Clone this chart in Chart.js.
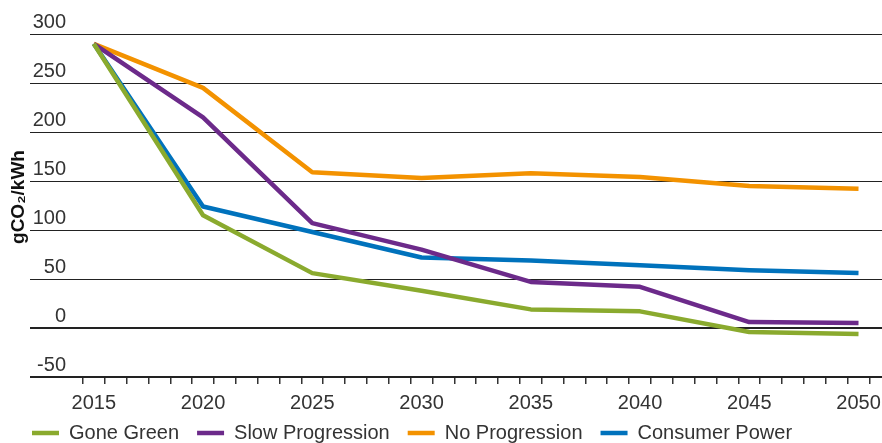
<!DOCTYPE html>
<html>
<head>
<meta charset="utf-8">
<script src="https://cdn.jsdelivr.net/npm/chart.js@4/dist/chart.umd.min.js"></script>
<style>
  html, body { margin: 0; padding: 0; background: #fff; overflow: hidden; }
  #wrap { width: 882px; height: 443px; }
</style>
</head>
<body>
<div id="wrap"><canvas id="c"></canvas></div>
<script>
// values
const years = [2015, 2020, 2025, 2030, 2035, 2040, 2045, 2050];
const goneGreen = [290, 115, 56, 38, 19, 17, -4, -6];
const slowProgression = [290, 215, 107, 80, 47, 42, 6, 5];
const noProgression = [290, 245, 159, 153, 158, 154, 145, 142];
const consumerPower = [290, 124, 98, 72, 69, 64, 59, 56];
const yTicks = [-50, 0, 50, 100, 150, 200, 250, 300];
const labelYears = years;

// one minor tick per year along the x axis
const tickYears = [];
for (let y = 2014; y <= 2050; y++) tickYears.push(y);

const family = "'Liberation Sans', Arial, sans-serif";
const font = { family, size: 20 };
const pts = arr => arr.map((v, i) => ({ x: years[i], y: v }));

new Chart(document.getElementById('c'), {
  type: 'line',
  data: {
    datasets: [
      { label: 'Gone Green', data: pts(goneGreen), borderColor: '#8AAA2E', backgroundColor: '#8AAA2E' },
      { label: 'Slow Progression', data: pts(slowProgression), borderColor: '#6C2A8A', backgroundColor: '#6C2A8A' },
      { label: 'No Progression', data: pts(noProgression), borderColor: '#F39200', backgroundColor: '#F39200' },
      { label: 'Consumer Power', data: pts(consumerPower), borderColor: '#0072BC', backgroundColor: '#0072BC' }
    ]
  },
  options: {
    responsive: true,
    maintainAspectRatio: false,
    animation: false,
    layout: { padding: { left: 14, top: 17, right: 0, bottom: -10 } },
    elements: {
      line: { borderWidth: 4.5, tension: 0, borderJoinStyle: 'round' },
      point: { radius: 0, hoverRadius: 0, borderWidth: 4.5 }
    },
    plugins: {
      legend: {
        position: 'bottom',
        align: 'start',
        // empty title with negative padding pulls the row up under the axis labels
        title: { display: true, text: ' ', font: { size: 1 }, padding: { top: 0, bottom: -9.2 } },
        labels: {
          usePointStyle: true,
          pointStyle: 'line',
          pointStyleWidth: 27,
          padding: 18,
          color: '#333',
          font
        }
      },
      tooltip: { enabled: false }
    },
    scales: {
      x: {
        type: 'linear',
        min: 2013.728,
        max: 2051.075,
        afterBuildTicks: s => { s.ticks = tickYears.map(v => ({ value: v })); },
        afterFit: s => { s.height = 36; s.paddingLeft = 0; s.paddingRight = 0; },
        grid: { offset: true, drawOnChartArea: false, drawTicks: true, tickLength: 7, color: '#333', lineWidth: 1.5 },
        border: { display: true, color: '#222', width: 2 },
        ticks: {
          autoSkip: false,
          maxRotation: 0,
          padding: 7,
          color: '#333',
          font,
          callback: v => labelYears.includes(v) ? String(v) : ''
        }
      },
      y: {
        min: -50,
        max: 317.35,
        afterBuildTicks: s => { s.ticks = yTicks.map(v => ({ value: v })); },
        afterFit: s => { s.width = 52; s.paddingTop = 0; s.paddingBottom = 0; },
        grid: {
          color: '#222',
          lineWidth: c => (c.tick && (c.tick.value === 0 || c.tick.value === -50)) ? 2 : 1,
          drawTicks: true,
          tickLength: 36
        },
        border: { display: false },
        ticks: { align: 'end', crossAlign: 'near', padding: -36, labelOffset: -1.5, color: '#333', font },
        title: {
          display: true,
          text: 'gCO₂/kWh',
          color: '#111',
          font: { family, size: 19, weight: 'bold' },
          padding: { top: -7, bottom: 0 }
        }
      }
    }
  }
});
</script>
</body>
</html>
